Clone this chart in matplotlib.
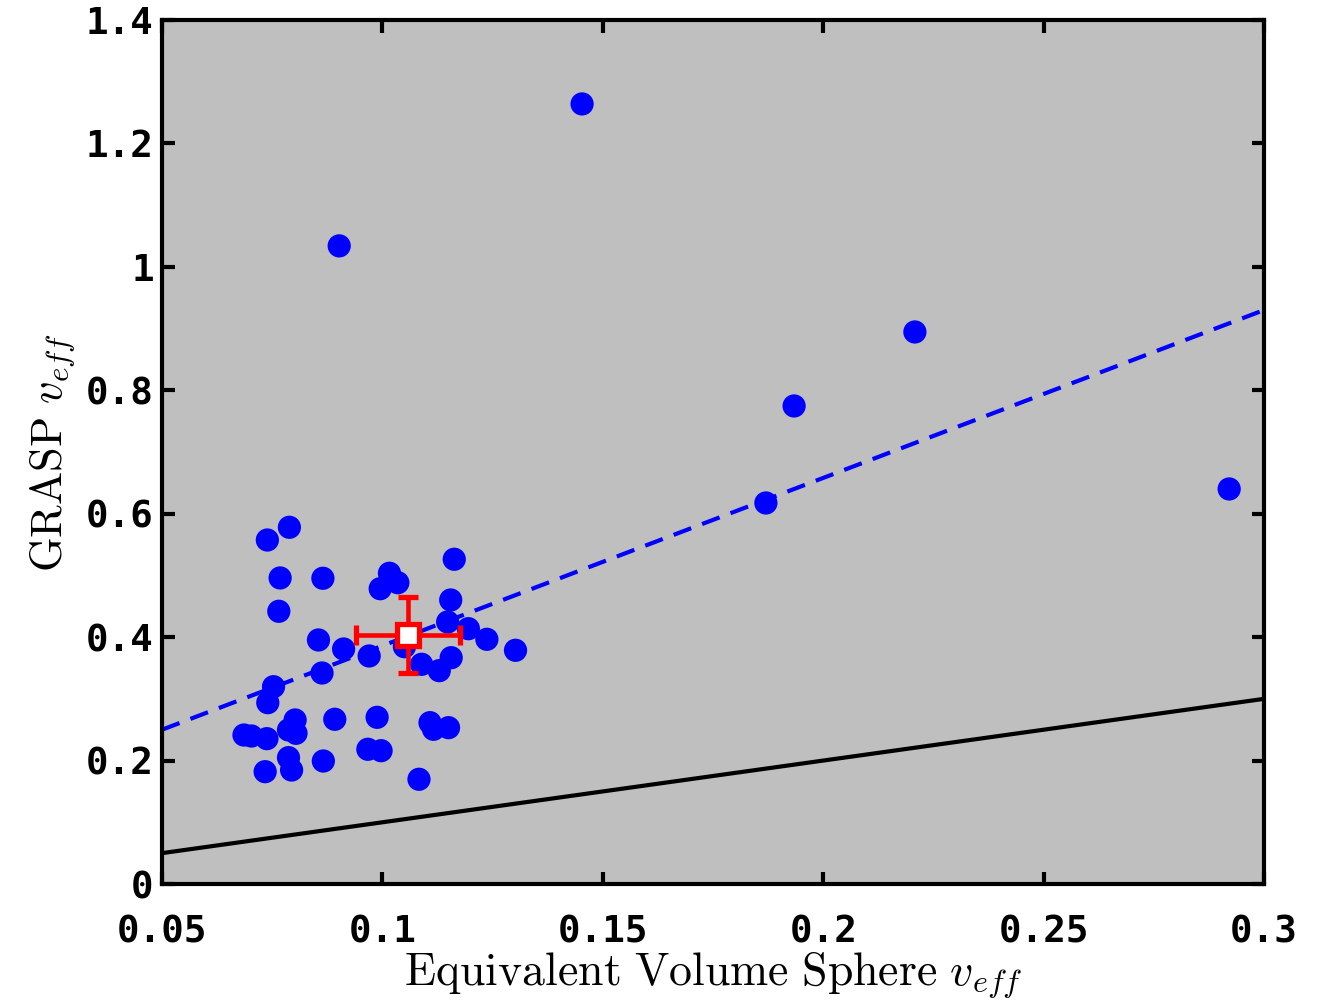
import numpy as np
import matplotlib
matplotlib.use("Agg")
import matplotlib.pyplot as plt

# Equivalent volume sphere v_eff (x) vs GRASP v_eff (y)
x_vals = [0.1453, 0.0902, 0.2208, 0.1934, 0.1870, 0.2921,
          0.0789, 0.0739, 0.0768, 0.0865, 0.1016, 0.1035, 0.0995, 0.1163,
          0.0765, 0.1155, 0.1148, 0.1195, 0.1237, 0.1302, 0.0855, 0.0912,
          0.0970, 0.1050, 0.1089, 0.1156, 0.1129, 0.0863, 0.0753, 0.0740,
          0.0802, 0.0787, 0.0804, 0.0686, 0.0703, 0.0738, 0.0892, 0.0988,
          0.1108, 0.1116, 0.1150, 0.0967, 0.0997, 0.0787, 0.0794, 0.0734,
          0.0866, 0.1083]
y_vals = [1.264, 1.034, 0.8945, 0.7746, 0.6174, 0.6401,
          0.578, 0.5574, 0.4959, 0.4954, 0.5035, 0.4882, 0.4785, 0.5262,
          0.4419, 0.4602, 0.4246, 0.4137, 0.3965, 0.3787, 0.3954, 0.3808,
          0.3695, 0.3845, 0.356, 0.3667, 0.3457, 0.3419, 0.3197, 0.2938,
          0.2658, 0.2496, 0.2442, 0.2414, 0.2398, 0.2355, 0.2669, 0.2701,
          0.2614, 0.2507, 0.2533, 0.2183, 0.216, 0.2047, 0.1847, 0.182,
          0.1993, 0.1697]

# mean point with error bars
mean_x, mean_y = 0.1058, 0.4035
err_x, err_y = 0.0117, 0.0616

# fit line (dashed) endpoints and 1:1 line
fit_x = [0.05, 0.30]
fit_y = [0.25, 0.93]
one_x = [0.05, 0.30]
one_y = [0.05, 0.30]

xticks = [0.05, 0.1, 0.15, 0.2, 0.25, 0.3]
xticklabels = ["0.05", "0.1", "0.15", "0.2", "0.25", "0.3"]
yticks = [0, 0.2, 0.4, 0.6, 0.8, 1.0, 1.2, 1.4]
yticklabels = ["0", "0.2", "0.4", "0.6", "0.8", "1", "1.2", "1.4"]

plt.rcParams['mathtext.fontset'] = 'cm'

fig = plt.figure(figsize=(13.22, 10.05), dpi=100)
ax = fig.add_axes([162/1322, 1-884/1005, (1264-162)/1322, (884-20)/1005])
ax.set_facecolor('#bfbfbf')

ax.plot(one_x, one_y, color='black', lw=3, zorder=2)
ax.plot(fit_x, fit_y, color='blue', lw=3, ls=(0, (4.5, 2.8)), zorder=2)
ax.scatter(x_vals, y_vals, s=280, color='blue', edgecolors='none', zorder=3)
ax.errorbar([mean_x], [mean_y], xerr=[err_x], yerr=[err_y], fmt='s',
            color='red', mfc='white', mec='red', mew=3.8, ms=15.5,
            elinewidth=3.3, capsize=7, capthick=3.3, zorder=4)

ax.set_xlim(0.05, 0.3)
ax.set_ylim(0, 1.4)
ax.set_xticks(xticks)
ax.set_xticklabels(xticklabels)
ax.set_yticks(yticks)
ax.set_yticklabels(yticklabels)
for lab in ax.get_xticklabels() + ax.get_yticklabels():
    lab.set_fontfamily('DejaVu Sans Mono')
    lab.set_fontweight('bold')
    lab.set_fontsize(27)
ax.tick_params(axis='x', direction='in', length=9, width=3, top=True, pad=22)
ax.tick_params(axis='y', direction='in', length=9, width=3, right=True, pad=6)
for s in ax.spines.values():
    s.set_linewidth(3)

ax.set_xlabel(r"$\mathrm{Equivalent\ Volume\ Sphere}\ v_{eff}$", fontsize=33, labelpad=0)
ax.set_ylabel(r"$\mathrm{GRASP}\ v_{eff}$", fontsize=32, labelpad=6)

fig.savefig("out.png", dpi=100)
